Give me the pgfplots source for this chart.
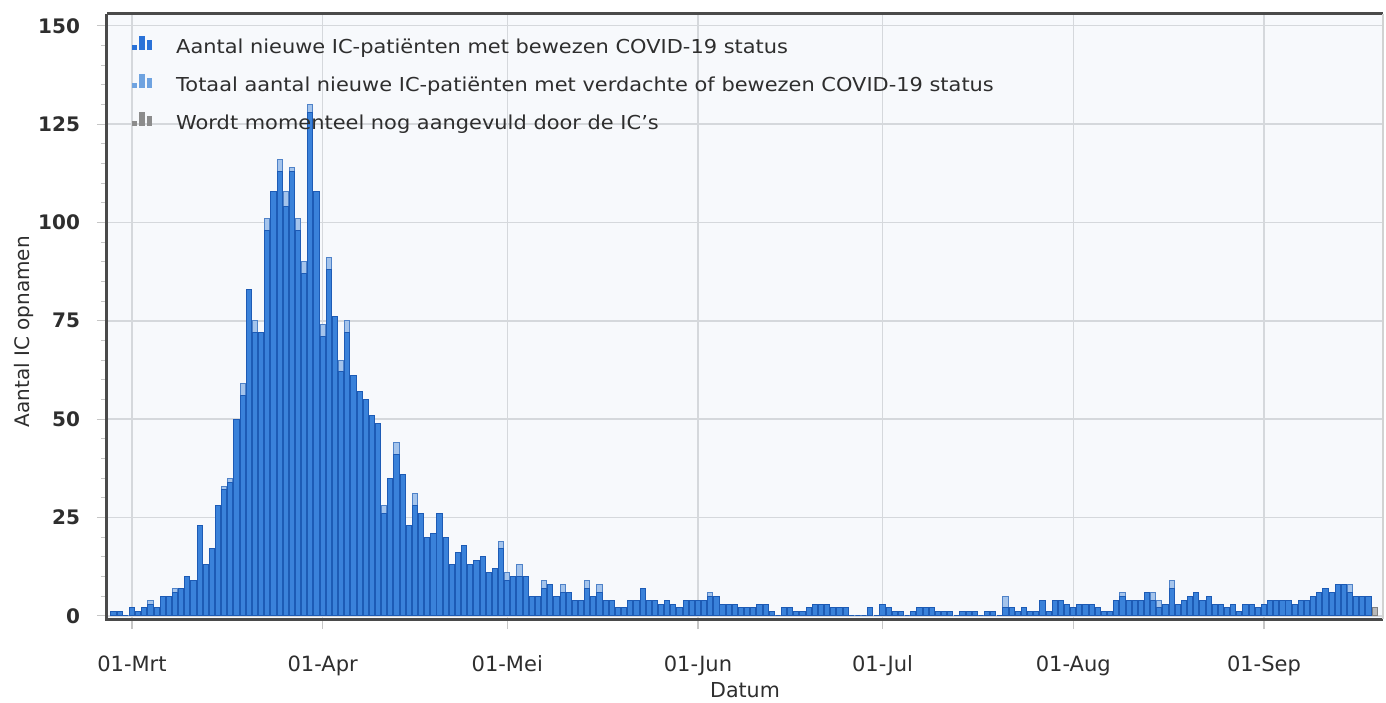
\documentclass[border=0pt]{standalone}
\usepackage{pgfplots}
\pgfplotsset{compat=1.18}
\usepackage{pgfplotstable}
\usepackage{fontspec}
\setmainfont{DejaVu Sans}
\newfontfamily\legfont{DejaVu Sans}[FakeStretch=1.09]
\definecolor{cConf}{HTML}{3A82DA}
\definecolor{cConfD}{HTML}{1D5BB5}
\definecolor{cTot}{HTML}{A4C4EC}
\definecolor{cTotD}{HTML}{4F82C8}
\definecolor{cPend}{HTML}{B9B9B9}
\definecolor{cPendD}{HTML}{808080}
\definecolor{legA}{HTML}{2A72D8}
\definecolor{legB}{HTML}{6FA3E0}
\definecolor{legC}{HTML}{8C8C8C}
\definecolor{framec}{HTML}{4A4A4A}
\definecolor{gridc}{HTML}{D5D8DC}
\definecolor{bgc}{HTML}{F7F9FC}
\definecolor{txt}{HTML}{2E2E2E}

\pgfplotstableread{
d t c
-3 1 1
-2 1 1
-1 0 0
0 2 2
1 1 1
2 2 2
3 4 3
4 2 2
5 5 5
6 5 5
7 7 6
8 7 7
9 10 10
10 9 9
11 23 23
12 13 13
13 17 17
14 28 28
15 33 32
16 35 34
17 50 50
18 59 56
19 83 83
20 75 72
21 72 72
22 101 98
23 108 108
24 116 113
25 108 104
26 114 113
27 101 98
28 90 87
29 130 128
30 108 108
31 74 71
32 91 88
33 76 76
34 65 62
35 75 72
36 61 61
37 57 57
38 55 55
39 51 51
40 49 49
41 28 26
42 35 35
43 44 41
44 36 36
45 23 23
46 31 28
47 26 26
48 20 20
49 21 21
50 26 26
51 20 20
52 13 13
53 16 16
54 18 18
55 13 13
56 14 14
57 15 15
58 11 11
59 12 12
60 19 17
61 11 9
62 10 10
63 13 10
64 10 10
65 5 5
66 5 5
67 9 7
68 8 8
69 5 5
70 8 6
71 6 6
72 4 4
73 4 4
74 9 7
75 5 5
76 8 6
77 4 4
78 4 4
79 2 2
80 2 2
81 4 4
82 4 4
83 7 7
84 4 4
85 4 4
86 3 3
87 4 4
88 3 3
89 2 2
90 4 4
91 4 4
92 4 4
93 4 4
94 6 5
95 5 5
96 3 3
97 3 3
98 3 3
99 2 2
100 2 2
101 2 2
102 3 3
103 3 3
104 1 1
105 0 0
106 2 2
107 2 2
108 1 1
109 1 1
110 2 2
111 3 3
112 3 3
113 3 3
114 2 2
115 2 2
116 2 2
117 0 0
118 0 0
119 0 0
120 2 2
121 0 0
122 3 3
123 2 2
124 1 1
125 1 1
126 0 0
127 1 1
128 2 2
129 2 2
130 2 2
131 1 1
132 1 1
133 1 1
134 0 0
135 1 1
136 1 1
137 1 1
138 0 0
139 1 1
140 1 1
141 0 0
142 5 2
143 2 2
144 1 1
145 2 2
146 1 1
147 1 1
148 4 4
149 1 1
150 4 4
151 4 4
152 3 3
153 2 2
154 3 3
155 3 3
156 3 3
157 2 2
158 1 1
159 1 1
160 4 4
161 6 5
162 4 4
163 4 4
164 4 4
165 6 6
166 6 4
167 4 2
168 3 3
169 9 7
170 3 3
171 4 4
172 5 5
173 6 6
174 4 4
175 5 5
176 3 3
177 3 3
178 2 2
179 3 3
180 1 1
181 3 3
182 3 3
183 2 2
184 3 3
185 4 4
186 4 4
187 4 4
188 4 4
189 3 3
190 4 4
191 4 4
192 5 5
193 6 6
194 7 7
195 6 6
196 8 8
197 8 8
198 8 6
199 5 5
200 5 5
201 5 5
}\icdata

\pgfplotstableread{
d p
202 2
}\pending

\begin{document}
\begin{tikzpicture}
\useasboundingbox (-53.5pt,-41.5pt) rectangle (639.5pt,309.5pt);
\begin{axis}[
  at={(0,0)}, anchor=south west,
  scale only axis, width=638pt, height=302.5pt,
  xmin=-4.06, xmax=203.35, ymin=-0.8, ymax=153,
  clip=false,
  axis line style={draw=none},
  axis background/.style={fill=bgc},
  xtick={0,31,61,92,122,153,184},
  xticklabels={01-Mrt,01-Apr,01-Mei,01-Jun,01-Jul,01-Aug,01-Sep},
  minor x tick num=4,
  ytick={0,25,...,150},
  minor y tick num=4,
  tick pos=left, tick align=outside,
  major tick length=5pt, minor tick length=3pt,
  tick style={color=gray!45, line width=0.6pt},
  grid=major, major grid style={color=gridc, line width=0.7pt},
  /pgf/number format/assume math mode=true,
  yticklabel style={font=\bfseries\fontsize{10}{12}\selectfont, text=txt, xshift=-5pt},
  xticklabel style={font=\fontsize{10.5}{12}\selectfont, text=txt, anchor=north, text height=7.8pt, text depth=2.2pt, yshift=-10pt},
  xlabel={Datum}, ylabel={Aantal IC opnamen},
  xlabel style={at={(axis description cs:0.5,-0.1174)}, anchor=center, font=\fontsize{10.3}{12}\selectfont, text=txt},
  ylabel style={at={(axis description cs:-0.0650,0.475)}, anchor=center, font=\fontsize{10}{12}\selectfont, text=txt},
  legend cell align=left,
  legend style={at={(axis description cs:0,1)}, anchor=north west, xshift=12.5pt, yshift=-11pt,
    draw=none, fill=none, inner sep=0pt, row sep=8pt,
    font=\legfont\fontsize{9.6}{11}\selectfont, text=txt,
    nodes={inner sep=0pt, text height=7.3pt, text depth=2.3pt}},
]
\addlegendimage{legend image code/.code={
  \fill[legA] (0pt,-0.5pt) rectangle (2pt,1.5pt);
  \fill[legA] (3.5pt,-0.5pt) rectangle (6pt,6pt);
  \fill[legA] (7.5pt,-0.5pt) rectangle (9.5pt,4pt);
  \path (21.5pt,0pt);}}
\addlegendentry{Aantal nieuwe IC-patiënten met bewezen COVID-19 status}
\addlegendimage{legend image code/.code={
  \fill[legB] (0pt,-0.5pt) rectangle (2pt,1.5pt);
  \fill[legB] (3.5pt,-0.5pt) rectangle (6pt,6pt);
  \fill[legB] (7.5pt,-0.5pt) rectangle (9.5pt,4pt);
  \path (21.5pt,0pt);}}
\addlegendentry{Totaal aantal nieuwe IC-patiënten met verdachte of bewezen COVID-19 status}
\addlegendimage{legend image code/.code={
  \fill[legC] (0pt,-0.5pt) rectangle (2pt,1.5pt);
  \fill[legC] (3.5pt,-0.5pt) rectangle (6pt,6pt);
  \fill[legC] (7.5pt,-0.5pt) rectangle (9.5pt,4pt);
  \path (21.5pt,0pt);}}
\addlegendentry{Wordt momenteel nog aangevuld door de IC’s}

\addplot[ybar, bar width=0.84, bar shift=0pt, fill=cTot, draw=cTotD, line width=0.5pt, forget plot] table[x=d, y=t] {\icdata};
\addplot[ybar, bar width=0.84, bar shift=0pt, fill=cConf, draw=cConfD, line width=0.5pt, forget plot] table[x=d, y=c] {\icdata};
\addplot[ybar, bar width=0.84, bar shift=0pt, fill=cPend, draw=cPendD, line width=0.5pt, forget plot] table[x=d, y=p] {\pending};

\draw[framec, line width=1.5pt] (rel axis cs:0,1) -- (rel axis cs:0,0) -- (rel axis cs:1,0);
\draw[framec, line width=1.5pt] (rel axis cs:0,1) -- (rel axis cs:1,1);
\draw[gray!35, line width=0.6pt] (rel axis cs:1,0) -- (rel axis cs:1,1);
\end{axis}
\end{tikzpicture}
\end{document}
